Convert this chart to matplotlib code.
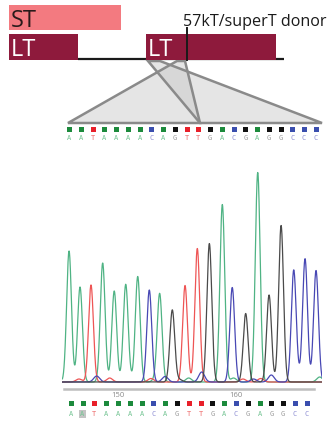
import matplotlib
matplotlib.use("Agg")
import matplotlib.pyplot as plt
import numpy as np
from matplotlib.patches import Polygon, Rectangle

# gene structure diagram (diagram units = pixels of the panel)
segment_names = ["ST", "LT", "LT"]
segment_start = [9, 9, 146]
segment_end = [121, 78, 276]
segment_row = [0, 1, 1]
intron_span = (78, 284)
donor_site = 187
donor_label = "57kT/superT donor"

# called sequence (read above the fans, and below the trace)
top_seq = list("AATAAAACAGTTGACGAGGCCC")
bottom_seq = list("AATAAAACAGTTGACGAGGCC")
first_base = 146
highlight_index = 1

# main peaks: called base, peak position (base units), intensity
peak_base = list("AATAAAACAGTTGACGAGGCCC")
peak_pos = [145.86, 146.79, 147.72, 148.71, 149.69, 150.66, 151.68, 152.66, 153.54, 154.61, 155.69,
            156.73, 157.75, 158.85, 159.69, 160.83, 161.85, 162.81, 163.83, 164.90, 165.86, 166.79]
peak_height = [1310, 950, 970, 1190, 910, 955, 1055, 920, 875, 720, 965,
               1335, 1360, 1775, 945, 685, 2095, 870, 1565, 1110, 1230, 1115]

# small background bumps
minor_base = list("CTTCACATCTCGAATGAC")
minor_pos = [148.2, 149.3, 152.8, 154.0, 156.0, 157.1, 159.8, 160.6, 163.0, 162.1, 161.5,
             157.8, 167.1, 153.2, 146.7, 155.2, 150.9, 165.3]
minor_height = [60, 40, 35, 55, 40, 100, 40, 30, 70, 35, 30, 25, 50, 30, 30, 25, 35, 40]

tick_values = [150, 160]

trace_colors = {"A": "#4fb384", "T": "#ee5555", "C": "#4848b4", "G": "#4a4a4a"}
square_colors = {"A": "#1c8a3c", "T": "#e8202a", "C": "#3a4eae", "G": "#111111"}
letter_colors = {"A": "#74c493", "T": "#ee6a6a", "C": "#8c8cd2", "G": "#9a9a9a"}

W, H = 334, 423
fig = plt.figure(figsize=(W / 100, H / 100), dpi=100)
plt.rcParams["font.family"] = ["Open Sans", "DejaVu Sans"]

ax = fig.add_axes([0, 0, 1, 1])
ax.set_xlim(0, W)
ax.set_ylim(H, 0)
ax.axis("off")

# gene diagram
row_y = [(5, 30.5), (34, 60)]
ax.plot(intron_span, [59.3, 59.3], color="#1a1a1a", lw=1.6, solid_capstyle="butt", zorder=1)
for name, x0, x1, r in zip(segment_names, segment_start, segment_end, segment_row):
    y0, y1 = row_y[r]
    fc = "#f37a80" if name == "ST" else "#8e1a3c"
    ax.add_patch(Rectangle((x0, y0), x1 - x0, y1 - y0, facecolor=fc, edgecolor="none", zorder=2))
    tc = "#2a1a1a" if name == "ST" else "white"
    ax.text(x0 + 2, y1 - 3.5, name, color=tc, fontsize=17, ha="left", va="baseline", zorder=3)
ax.plot([donor_site, donor_site], [28, 60], color="#1a1a1a", lw=1.4, zorder=4)
ax.text(donor_site - 4, 26.5, donor_label, fontsize=11.6, color="#1a1a1a", ha="left", va="baseline")

# zoom fans
fans = [
    [(177, 61), (185, 61), (200, 123), (68, 123)],
    [(148, 61), (160, 61), (322, 123), (200, 123)],
]
for pts in fans:
    ax.add_patch(Polygon(pts, closed=True, facecolor=(0.78, 0.78, 0.78, 0.45), edgecolor="none", zorder=1))
    ax.add_patch(Polygon(pts, closed=True, facecolor="none", edgecolor="#8a8a8a", lw=1.8,
                         joinstyle="miter", zorder=1.5))

# top sequence row
top_x0, top_step = 69, 11.75
for i, b in enumerate(top_seq):
    x = top_x0 + i * top_step
    ax.plot(x, 129.3, marker="s", ms=3.6, color=square_colors[b], mew=0, zorder=3)
    ax.text(x, 138, b, fontsize=5, color=letter_colors[b], ha="center", va="center",
            family="DejaVu Sans Mono", zorder=3)

# chromatogram
px_per_base = 11.8
base_px0 = 70.7
left_px, right_px = 62, 322
top_px, bot_px = 160, 392
base_line_px = 382
unit_per_px = 10
cax = fig.add_axes([left_px / W, 1 - bot_px / H, (right_px - left_px) / W, (bot_px - top_px) / H])
cax.set_xlim(first_base + (left_px - base_px0) / px_per_base, first_base + (right_px - base_px0) / px_per_base)
cax.set_ylim(-(bot_px - base_line_px) * unit_per_px, (base_line_px - top_px) * unit_per_px)
cax.patch.set_alpha(0)

xs = np.linspace(145.3, 167.3, 2000)
sigma = 0.205
for b in "ATCG":
    y = np.zeros_like(xs)
    for pb, pp, ph in zip(peak_base, peak_pos, peak_height):
        if pb == b:
            y += ph * np.exp(-0.5 * ((xs - pp) / sigma) ** 2)
    for mb, mp, mh in zip(minor_base, minor_pos, minor_height):
        if mb == b:
            y += mh * np.exp(-0.5 * ((xs - mp) / 0.25) ** 2)
    cax.plot(xs, y, color=trace_colors[b], lw=0.9)

for s in ["top", "left", "right"]:
    cax.spines[s].set_visible(False)
cax.spines["bottom"].set_position(("data", -70))
cax.spines["bottom"].set_color("#bdbdbd")
cax.spines["bottom"].set_linewidth(1.8)
cax.spines["bottom"].set_bounds(145.45, 166.6)
cax.set_yticks([])
cax.set_xticks(tick_values)
cax.set_xticklabels([str(v) for v in tick_values])
cax.tick_params(axis="x", length=0, pad=2.2, labelsize=5.5, labelcolor="#8a8a8a")

# bottom called sequence
for i, b in enumerate(bottom_seq):
    x = first_base + i
    if i == highlight_index:
        cax.add_patch(Rectangle((x - 0.3, -(418 - base_line_px) * unit_per_px), 0.6, 80,
                                facecolor="#c4c4c4", edgecolor="none", clip_on=False))
    cax.plot(x, -(403 - base_line_px) * unit_per_px, marker="s", ms=3.6, color=square_colors[b],
             mew=0, clip_on=False)
    cax.text(x, -(413.5 - base_line_px) * unit_per_px, b, fontsize=5, color=letter_colors[b],
             ha="center", va="center", family="DejaVu Sans Mono", clip_on=False)

fig.savefig("out.png", dpi=100)
